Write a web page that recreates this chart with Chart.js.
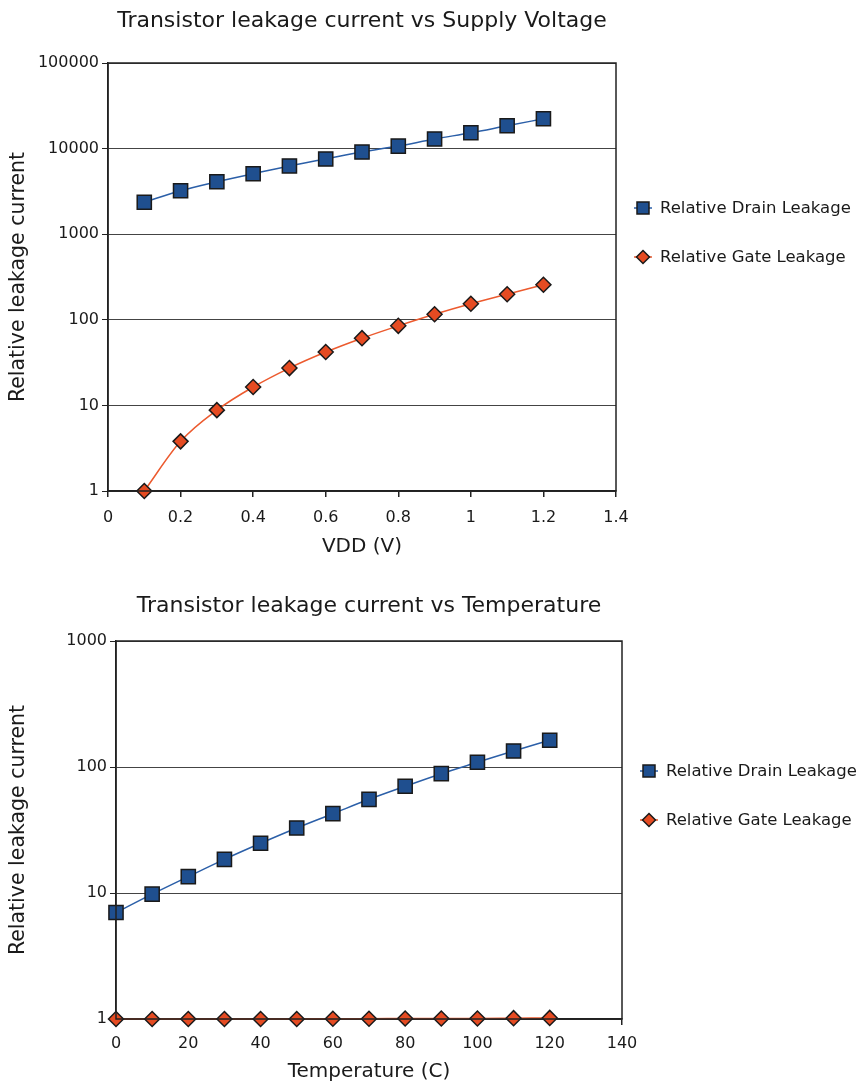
<!DOCTYPE html>
<html>
<head>
<meta charset="utf-8">
<script src="https://cdn.jsdelivr.net/npm/chart.js@4/dist/chart.umd.min.js"></script>
<style>
    body { margin: 0; background: #fff; overflow: hidden; }
    canvas { position: absolute; left: 0; }
</style>
</head>
<body>
<canvas id="vddChart" width="862" height="563" style="top:0"></canvas>
<canvas id="tempChart" width="862" height="525" style="top:563px"></canvas>
<script>
const seriesNames = ["Relative Drain Leakage", "Relative Gate Leakage"];

// chart 1 : leakage vs supply voltage
const vddValues = [0.1, 0.2, 0.3, 0.4, 0.5, 0.6, 0.7, 0.8, 0.9, 1.0, 1.1, 1.2];
const vddDrain = [2360, 3220, 4100, 5090, 6270, 7560, 9120, 10700, 12950, 15300, 18500, 22300];
const vddGate = [1, 3.8, 8.8, 16.4, 27.3, 42, 61, 85, 116, 154, 199, 257];
const vddTicksY = [1, 10, 100, 1000, 10000, 100000];

// chart 2 : leakage vs temperature
const tempValues = [0, 10, 20, 30, 40, 50, 60, 70, 80, 90, 100, 110, 120];
const tempDrain = [7.0, 9.8, 13.5, 18.5, 24.8, 32.8, 42.6, 55.4, 70.3, 88.5, 109, 134, 163];
const tempGate = [1, 1, 1, 1, 1, 1, 1.005, 1.005, 1.01, 1.01, 1.01, 1.015, 1.02];
const tempTicksY = [1, 10, 100, 1000];

const FONT = "'DejaVu Sans', Verdana, sans-serif";
const TEXT = "#1a1a1a";

const drainStyle = {
    borderColor: "#2b5fa8",
    backgroundColor: "#1f4f8f",
    pointBackgroundColor: "#1f4f8f",
    pointBorderColor: "#1a1a1a",
    pointStyle: "rect",
    pointRadius: 10,
    pointHoverRadius: 10,
    pointBorderWidth: 1.5
};
const gateStyle = {
    borderColor: "#ec5a2e",
    backgroundColor: "#e54b22",
    pointBackgroundColor: "#e54b22",
    pointBorderColor: "#1a1a1a",
    pointStyle: "rectRot",
    pointRadius: 7.5,
    pointHoverRadius: 7.5,
    pointBorderWidth: 1.5
};

// box around the plot area
const framePlugin = {
    id: "frame",
    afterDatasetsDraw(chart) {
        const { ctx, chartArea: a } = chart;
        ctx.save();
        ctx.strokeStyle = "#222";
        ctx.lineWidth = 1.5;
        ctx.strokeRect(a.left, a.top, a.right - a.left, a.bottom - a.top);
        ctx.restore();
    }
};

// title centred over the plot area, not the whole canvas
const plotTitlePlugin = {
    id: "plotTitle",
    afterDraw(chart, args, opts) {
        const { ctx, chartArea: a } = chart;
        ctx.save();
        ctx.font = "22px " + FONT;
        ctx.fillStyle = TEXT;
        ctx.textAlign = "center";
        ctx.textBaseline = "middle";
        ctx.fillText(opts.text, (a.left + a.right) / 2, opts.y);
        ctx.restore();
    }
};

// legend on the right with line + marker
const sideLegendPlugin = {
    id: "sideLegend",
    afterDraw(chart, args, opts) {
        const { ctx, chartArea: a } = chart;
        chart.data.datasets.forEach((ds, i) => {
            const y = opts.rows[i];
            const mx = a.right + 27;
            ctx.save();
            ctx.strokeStyle = ds.borderColor;
            ctx.lineWidth = 1.5;
            ctx.beginPath();
            ctx.moveTo(mx - 9, y);
            ctx.lineTo(mx + 9, y);
            ctx.stroke();
            ctx.fillStyle = ds.pointBackgroundColor;
            ctx.strokeStyle = ds.pointBorderColor;
            ctx.beginPath();
            if (ds.pointStyle === "rect") {
                ctx.rect(mx - 6, y - 6, 12, 12);
            } else {
                ctx.moveTo(mx, y - 6.5);
                ctx.lineTo(mx + 6.5, y);
                ctx.lineTo(mx, y + 6.5);
                ctx.lineTo(mx - 6.5, y);
                ctx.closePath();
            }
            ctx.fill();
            ctx.stroke();
            ctx.font = "16.5px " + FONT;
            ctx.fillStyle = TEXT;
            ctx.textAlign = "left";
            ctx.textBaseline = "middle";
            ctx.fillText(ds.label, mx + 17, y + 1);
            ctx.restore();
        });
    }
};

function buildChart(id, xs, drain, gate, cfg) {
    const ctx = document.getElementById(id).getContext("2d");
    return new Chart(ctx, {
        type: "line",
        data: {
            datasets: [
                Object.assign({
                    label: seriesNames[0],
                    data: xs.map((x, i) => ({ x: x, y: drain[i] })),
                    borderWidth: 1.5,
                    cubicInterpolationMode: "monotone",
                    clip: false
                }, drainStyle),
                Object.assign({
                    label: seriesNames[1],
                    data: xs.map((x, i) => ({ x: x, y: gate[i] })),
                    borderWidth: 1.5,
                    cubicInterpolationMode: "monotone",
                    clip: false
                }, gateStyle)
            ]
        },
        options: {
            responsive: false,
            animation: false,
            layout: {
                padding: { left: 0, right: 862 - cfg.right, top: cfg.top, bottom: 0 }
            },
            plugins: {
                legend: { display: false },
                title: { display: false },
                tooltip: { enabled: false },
                plotTitle: { text: cfg.title, y: cfg.titleY },
                sideLegend: { rows: [208, 257] }
            },
            scales: {
                x: {
                    type: "linear",
                    min: cfg.xMin,
                    max: cfg.xMax,
                    afterFit: s => { s.height = cfg.xHeight; },
                    ticks: {
                        stepSize: cfg.xStep,
                        padding: cfg.xPad,
                        color: TEXT,
                        font: { family: FONT, size: 16 },
                        callback: v => String(+v.toFixed(1))
                    },
                    grid: {
                        drawOnChartArea: false,
                        drawTicks: true,
                        tickLength: 6,
                        tickColor: "#222",
                        lineWidth: 1.5
                    },
                    border: { color: "#222", width: 1.5 },
                    title: {
                        display: true,
                        text: cfg.xTitle,
                        color: TEXT,
                        font: { family: FONT, size: 20 },
                        padding: { top: 0, bottom: 4 }
                    }
                },
                y: {
                    type: "logarithmic",
                    min: cfg.yTicks[0],
                    max: cfg.yTicks[cfg.yTicks.length - 1],
                    afterFit: s => { s.width = cfg.left; },
                    afterBuildTicks: s => { s.ticks = cfg.yTicks.map(v => ({ value: v })); },
                    ticks: {
                        padding: 3,
                        color: TEXT,
                        font: { family: FONT, size: 16 },
                        callback: v => String(v)
                    },
                    grid: {
                        color: "#444",
                        lineWidth: 1,
                        drawTicks: true,
                        tickLength: 6,
                        tickColor: "#222"
                    },
                    border: { color: "#222", width: 1.5 },
                    title: {
                        display: true,
                        text: "Relative leakage current",
                        color: TEXT,
                        font: { family: FONT, size: 20.5 },
                        padding: { top: 6, bottom: 0 }
                    }
                }
            }
        },
        plugins: [framePlugin, plotTitlePlugin, sideLegendPlugin]
    });
}

buildChart("vddChart", vddValues, vddDrain, vddGate, {
    title: "Transistor leakage current vs Supply Voltage",
    titleY: 21,
    top: 63,
    left: 108,
    right: 616,
    xHeight: 72,
    xPad: 11,
    xMin: 0, xMax: 1.4, xStep: 0.2,
    xTitle: "VDD (V)",
    yTicks: vddTicksY
});

buildChart("tempChart", tempValues, tempDrain, tempGate, {
    title: "Transistor leakage current vs Temperature",
    titleY: 43,
    top: 78,
    left: 116,
    right: 622,
    xHeight: 69,
    xPad: 9,
    xMin: 0, xMax: 140, xStep: 20,
    xTitle: "Temperature (C)",
    yTicks: tempTicksY
});
</script>
</body>
</html>
